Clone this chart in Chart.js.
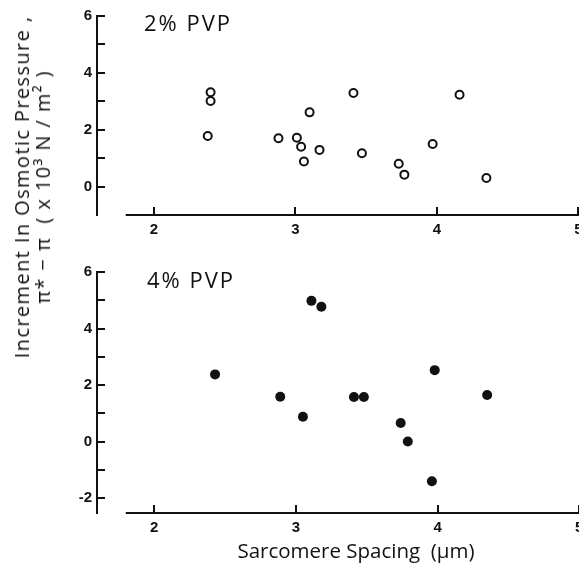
<!DOCTYPE html>
<html>
<head>
<meta charset="utf-8">
<script src="https://cdn.jsdelivr.net/npm/chart.js@4.4.0/dist/chart.umd.min.js"></script>
<style>
  html, body { margin: 0; padding: 0; background: #fff; overflow: hidden; }
  body { width: 579px; height: 574px; position: relative; }
  .panel { position: absolute; left: 0; width: 620px; }
  #topPanel { top: -6px; height: 256px; }
  #bottomPanel { top: 250px; height: 324px; }
  .tag { position: absolute; font: 22px "Open Sans", sans-serif; letter-spacing: 2px; color: #111; line-height: 20px; white-space: nowrap; }
  #ytitle {
    position: absolute; left: 32px; top: 187px;
    transform: translate(-50%, -50%) rotate(-90deg);
    font: 20px "Open Sans", sans-serif; letter-spacing: 1.4px; color: #111;
    line-height: 21px; text-align: center; white-space: nowrap;
  }
</style>
</head>
<body>
<div class="panel" id="topPanel"><canvas id="chart-2pvp"></canvas></div>
<div class="panel" id="bottomPanel"><canvas id="chart-4pvp"></canvas></div>
<div class="tag" style="left:144px; top:12px;">2% PVP</div>
<div class="tag" style="left:147px; top:269px;">4% PVP</div>
<div id="ytitle">Increment In Osmotic Pressure ,<br>π* − π&nbsp; ( x 10³ N / m² )</div>

<script>
// sarcomere spacing (um) and osmotic pressure increment (x10^3 N/m^2)
const spacing2 = [2.38, 2.40, 2.40, 2.88, 3.01, 3.04, 3.06, 3.10, 3.17, 3.41, 3.47, 3.73, 3.77, 3.97, 4.16, 4.35];
const pressure2 = [1.78, 3.32, 3.01, 1.70, 1.72, 1.40, 0.88, 2.61, 1.29, 3.29, 1.17, 0.80, 0.42, 1.50, 3.23, 0.30];

const spacing4 = [2.43, 2.89, 3.05, 3.11, 3.18, 3.41, 3.48, 3.74, 3.79, 3.96, 3.98, 4.35];
const pressure4 = [2.38, 1.59, 0.88, 4.98, 4.77, 1.58, 1.58, 0.66, 0.01, -1.40, 2.53, 1.65];

const xTicks = [2, 3, 4, 5];
const yTicks2 = [0, 1, 2, 3, 4, 5, 6];
const yTicks4 = [-2, -1, 0, 1, 2, 3, 4, 5, 6];

const INK = '#111';
const X_MIN = 1.597, X_MAX = 5.252, X_START = 1.8;

// x axis line starts a bit right of the y axis, like the original
const axisLine = {
  id: 'axisLine',
  afterDraw(chart) {
    const { ctx, chartArea, scales: { x } } = chart;
    ctx.save();
    ctx.strokeStyle = INK;
    ctx.lineWidth = 2;
    ctx.beginPath();
    ctx.moveTo(x.getPixelForValue(X_START), chartArea.bottom);
    ctx.lineTo(chartArea.right, chartArea.bottom);
    ctx.stroke();
    ctx.restore();
  }
};

function makeConfig(xs, ys, filled, yMin, yMax, yTicks, opts) {
  return {
    type: 'scatter',
    data: {
      datasets: [{
        data: xs.map((v, i) => ({ x: v, y: ys[i] })),
        pointRadius: filled ? 5 : 4,
        borderWidth: filled ? 0 : 2,
        borderColor: INK,
        backgroundColor: filled ? INK : '#fff'
      }]
    },
    options: {
      responsive: true,
      maintainAspectRatio: false,
      animation: false,
      layout: { padding: { top: opts.padTop, left: 0, right: 0, bottom: 0 } },
      plugins: { legend: { display: false }, tooltip: { enabled: false } },
      scales: {
        x: {
          type: 'linear',
          min: X_MIN,
          max: X_MAX,
          afterBuildTicks: (s) => { s.ticks = xTicks.map(v => ({ value: v })); },
          afterFit: (s) => { s.height = opts.xHeight; },
          border: { display: false },
          grid: { drawOnChartArea: false, tickLength: -8, color: INK, lineWidth: 2 },
          ticks: { color: INK, padding: 14, maxRotation: 0, font: { family: 'Liberation Sans', size: 15, weight: 'bold' } },
          title: opts.xTitle ? {
            display: true,
            text: opts.xTitle,
            color: INK,
            font: { family: 'Open Sans', size: 20.5 },
            padding: { top: 0, bottom: 10 }
          } : { display: false }
        },
        y: {
          min: yMin,
          max: yMax,
          afterBuildTicks: (s) => { s.ticks = yTicks.map(v => ({ value: v })); },
          afterFit: (s) => { s.width = 97; },
          border: { color: INK, width: 2 },
          grid: { drawOnChartArea: false, tickLength: -8, color: INK, lineWidth: 2 },
          ticks: {
            color: INK,
            padding: 13,
            font: { family: 'Liberation Sans', size: 15, weight: 'bold' },
            callback: (v) => (v % 2 === 0 ? String(v) : '')
          }
        }
      }
    },
    plugins: [axisLine]
  };
}

new Chart(document.getElementById('chart-2pvp'),
  makeConfig(spacing2, pressure2, false, -1, 6, yTicks2, { padTop: 15, xHeight: 35 }));

new Chart(document.getElementById('chart-4pvp'),
  makeConfig(spacing4, pressure4, true, -2.52, 6, yTicks4, { padTop: 22, xHeight: 61, xTitle: 'Sarcomere Spacing  (μm)' }));
</script>
</body>
</html>
